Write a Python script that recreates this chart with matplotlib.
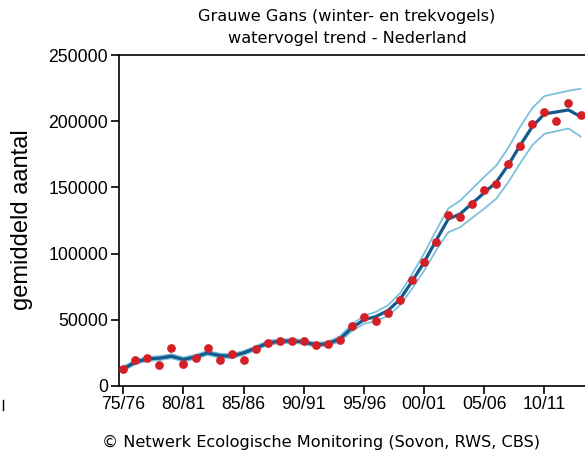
import matplotlib
matplotlib.use("Agg")
import matplotlib.pyplot as plt
from matplotlib.lines import Line2D

seasons = list(range(1975, 2014))
counts = [12500, 20000, 21300, 16200, 28800, 16800, 21300, 28800, 20000, 24300,
          20000, 28300, 32600, 33800, 33800, 33800, 30600, 31900, 35100, 45500,
          51800, 48900, 55300, 64600, 79700, 93500, 108600, 129000, 127500, 137700,
          147700, 152700, 167800, 181600, 198000, 207000, 200500, 213400, 204500]
trend = [13000, 18000, 20500, 21000, 22500, 20000, 22000, 25000, 23000, 22500,
         25000, 28500, 32500, 33800, 34000, 33300, 31000, 32000, 35500, 44000,
         50000, 52500, 57000, 65500, 79000, 93500, 110000, 126000, 130000, 138000,
         146000, 154000, 167000, 182000, 196000, 205500, 207000, 208500, 203500]
upper = [14500, 19500, 22000, 22500, 24000, 21500, 23500, 26500, 24500, 24000,
         26500, 30000, 34000, 35300, 35500, 34800, 32500, 33500, 37500, 46500,
         53000, 56000, 61000, 70000, 84500, 100000, 117500, 134000, 140000, 149000,
         158000, 166500, 180000, 196000, 210000, 219000, 221000, 223000, 224500]
lower = [11500, 16500, 19000, 19500, 21000, 18500, 20500, 23500, 21500, 21000,
         23500, 27000, 31000, 32300, 32500, 31800, 29500, 30500, 33500, 41500,
         47000, 49000, 53000, 61000, 73500, 87000, 102500, 116000, 120000, 127000,
         134000, 141500, 154000, 168500, 182000, 190500, 192500, 194500, 188500]
tick_seasons = [1975, 1980, 1985, 1990, 1995, 2000, 2005, 2010]
tick_labels = ["75/76", "80/81", "85/86", "90/91", "95/96", "00/01", "05/06", "10/11"]
yticks = [0, 50000, 100000, 150000, 200000, 250000]

fig = plt.figure(figsize=(5.85, 4.55), dpi=100)
ax = fig.add_axes([118.5/585, 1-386/455, 1-118.5/585, (386-55)/455])

band_col = "#7cc0dc"
ax.plot(seasons, upper, color=band_col, lw=1.3, zorder=2)
ax.plot(seasons, lower, color=band_col, lw=1.3, zorder=2)
ax.plot(seasons, trend, color="#145a8c", lw=2.3, zorder=3)
ax.plot(seasons, counts, "o", color="#d41f26", ms=6.3, mec="none", zorder=4)

ax.set_xlim(1974.6, 1975 + (585-123)/12.04)
ax.set_ylim(0, 250000)
ax.set_xticks(tick_seasons)
ax.set_xticklabels(tick_labels)
ax.set_yticks(yticks)
ax.set_yticklabels([str(v) for v in yticks])
for lab in ax.get_xticklabels() + ax.get_yticklabels():
    lab.set_fontfamily("Liberation Sans")
    lab.set_fontsize(12.7)
ax.tick_params(direction="out", length=5.5, width=1.2, colors="black", pad=2)
ax.spines["right"].set_visible(False)
for s in ["left", "bottom", "top"]:
    ax.spines[s].set_linewidth(1.2)

fig.text(22/585, 1-220/455, "gemiddeld aantal", rotation=90, ha="center", va="center",
         fontsize=17, family="Liberation Sans")
fig.text(347/585, 1-17/455, "Grauwe Gans (winter- en trekvogels)", ha="center", va="center",
         fontsize=11.6, family="DejaVu Sans")
fig.text(347/585, 1-38/455, "watervogel trend - Nederland", ha="center", va="center",
         fontsize=11.6, family="DejaVu Sans")
fig.text(321/585, 1-442/455, "\u00a9 Netwerk Ecologische Monitoring (Sovon, RWS, CBS)",
         ha="center", va="center", fontsize=11.6, family="DejaVu Sans")
fig.add_artist(Line2D([3/585, 3/585], [1-410/455, 1-400/455], color="black", lw=1,
                      transform=fig.transFigure))

fig.savefig("out.png", dpi=100)
